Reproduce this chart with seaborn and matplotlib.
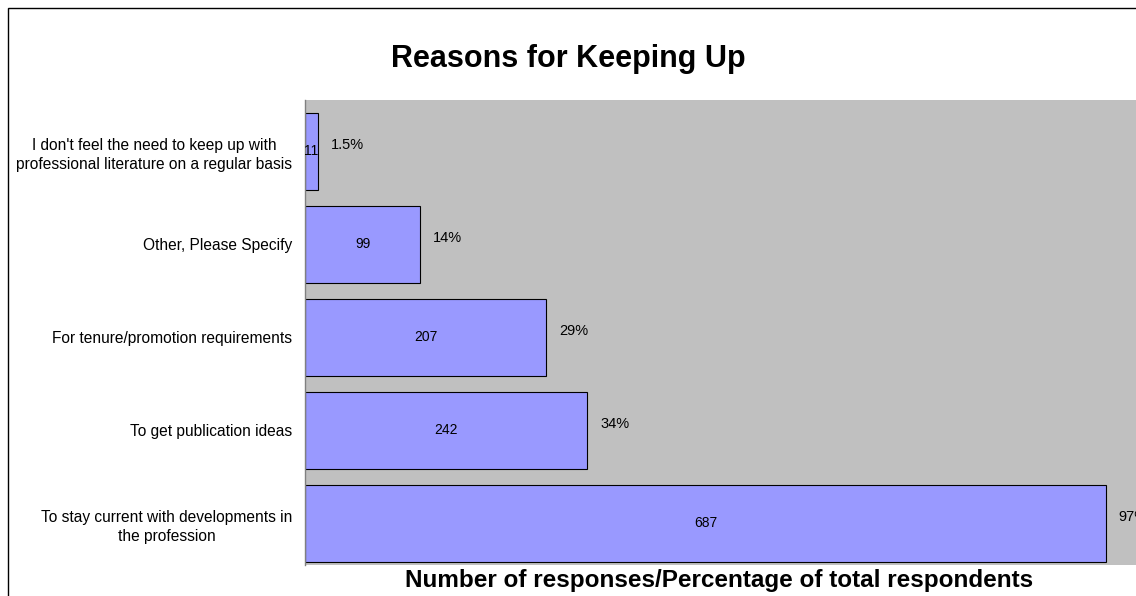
import matplotlib
matplotlib.use("Agg")
import matplotlib.pyplot as plt
import matplotlib.patches as patches
import seaborn as sns
import pandas as pd

reasons = [
    "I don't feel the need to keep up with\nprofessional literature on a regular basis",
    "Other, Please Specify",
    "For tenure/promotion requirements",
    "To get publication ideas",
    "To stay current with developments in\nthe profession",
]
counts = [11, 99, 207, 242, 687]
pct_labels = ["1.5%", "14%", "29%", "34%", "97%"]

df = pd.DataFrame({"reason": reasons, "count": counts})

sns.set_style("white")
plt.rcParams['font.family'] = ['Liberation Sans', 'DejaVu Sans']
plt.rcParams['text.color'] = 'black'
plt.rcParams['axes.labelcolor'] = 'black'
plt.rcParams['ytick.color'] = 'black'

fig = plt.figure(figsize=(11.36, 5.96), dpi=100)
ax = fig.add_axes([305/1136, 1 - 565/596, 831/1136, 465/596])
ax.set_facecolor("#C0C0C0")

sns.barplot(data=df, x="count", y="reason", orient="h", color="#9999FF",
            edgecolor="black", linewidth=0.8, width=0.83, saturation=1, ax=ax)

ax.set_xlim(0, 687 * 831 / 801)
ax.set_ylim(4.45, -0.55)

for i, (c, p) in enumerate(zip(counts, pct_labels)):
    ax.text(c / 2, i, str(c), ha="center", va="center", fontsize=10)
    ax.text(c + 11, i - 0.07, p, ha="left", va="center", fontsize=10.5)

ax.set_xticks([])
ax.tick_params(axis="y", length=0, pad=9, labelsize=11.2)
for lab in ax.get_yticklabels():
    lab.set_multialignment("center")
    lab.set_linespacing(1.35)
ax.set_ylabel("")
ax.set_xlabel("Number of responses/Percentage of total respondents",
              fontsize=17.5, fontweight="bold")
ax.xaxis.set_label_coords((719 - 305) / 831, -0.008)
ax.xaxis.label.set_va("top")

for s in ["top", "right", "bottom"]:
    ax.spines[s].set_visible(False)
ax.spines["left"].set_color("#808080")
ax.spines["left"].set_linewidth(1)

fig.text(0.5, 1 - 59/596, "Reasons for Keeping Up", ha="center", va="center",
         fontsize=22, fontweight="bold")

border = patches.Rectangle((8/1136, -0.2), 1.5, 1.2 - 8/596, transform=fig.transFigure,
                           fill=False, edgecolor="black", linewidth=1, clip_on=False)
fig.patches.append(border)

fig.savefig("out.png", dpi=100)
